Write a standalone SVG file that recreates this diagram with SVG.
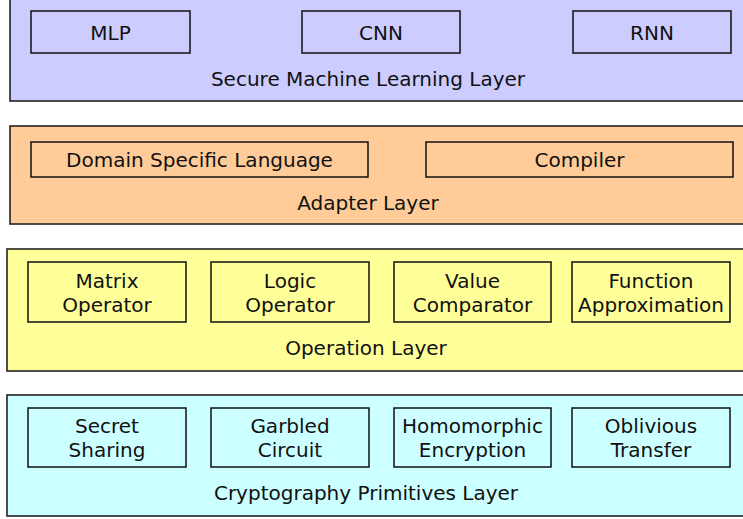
<svg xmlns="http://www.w3.org/2000/svg" width="743" height="519" viewBox="0 0 743 519">
<style>
.layer{stroke:#222;stroke-width:1.6}
.box{stroke:#111;stroke-width:1.5}
text{font-family:"DejaVu Sans",Verdana,sans-serif;font-size:20px;fill:#111;text-anchor:middle}
</style>
<rect width="743" height="519" fill="#ffffff"/>
<g id="layer-ml">
<rect class="layer" x="10" y="-5" width="760" height="106" fill="#ccccff"/>
<text x="368" y="86">Secure Machine Learning Layer</text>
</g>
<g id="mlp"><rect class="box" x="31" y="11" width="159" height="42" fill="#ccccff"/><text x="110.5" y="39.5">MLP</text></g>
<g id="cnn"><rect class="box" x="302" y="11" width="158" height="42" fill="#ccccff"/><text x="381" y="39.5">CNN</text></g>
<g id="rnn"><rect class="box" x="573" y="11" width="158" height="42" fill="#ccccff"/><text x="652" y="39.5">RNN</text></g>

<g id="layer-adapter">
<rect class="layer" x="10" y="126" width="760" height="98" fill="#ffcc99"/>
<text x="368" y="210">Adapter Layer</text>
</g>
<g id="dsl"><rect class="box" x="31" y="142" width="337" height="35" fill="#ffcc99"/><text x="199.5" y="167">Domain Specific Language</text></g>
<g id="compiler"><rect class="box" x="426" y="142" width="307" height="35" fill="#ffcc99"/><text x="579.5" y="167">Compiler</text></g>

<g id="layer-operation">
<rect class="layer" x="7" y="249" width="760" height="122" fill="#ffff99"/>
<text x="366" y="355">Operation Layer</text>
</g>
<g id="matrix"><rect class="box" x="28" y="262" width="158" height="60" fill="#ffff99"/><text x="107" y="288">Matrix</text><text x="107" y="312">Operator</text></g>
<g id="logic"><rect class="box" x="211" y="262" width="158" height="60" fill="#ffff99"/><text x="290" y="288">Logic</text><text x="290" y="312">Operator</text></g>
<g id="value"><rect class="box" x="394" y="262" width="157" height="60" fill="#ffff99"/><text x="472.5" y="288">Value</text><text x="472.5" y="312">Comparator</text></g>
<g id="function"><rect class="box" x="572" y="262" width="158" height="60" fill="#ffff99"/><text x="651" y="288">Function</text><text x="651" y="312">Approximation</text></g>

<g id="layer-crypto">
<rect class="layer" x="7" y="395" width="760" height="121" fill="#ccffff"/>
<text x="366" y="500">Cryptography Primitives Layer</text>
</g>
<g id="secret"><rect class="box" x="28" y="408" width="158" height="59" fill="#ccffff"/><text x="107" y="433">Secret</text><text x="107" y="457">Sharing</text></g>
<g id="garbled"><rect class="box" x="211" y="408" width="158" height="59" fill="#ccffff"/><text x="290" y="433">Garbled</text><text x="290" y="457">Circuit</text></g>
<g id="homo"><rect class="box" x="394" y="408" width="157" height="59" fill="#ccffff"/><text x="472.5" y="433">Homomorphic</text><text x="472.5" y="457">Encryption</text></g>
<g id="ot"><rect class="box" x="572" y="408" width="158" height="59" fill="#ccffff"/><text x="651" y="433">Oblivious</text><text x="651" y="457">Transfer</text></g>
<g id="connectors"></g>
</svg>
